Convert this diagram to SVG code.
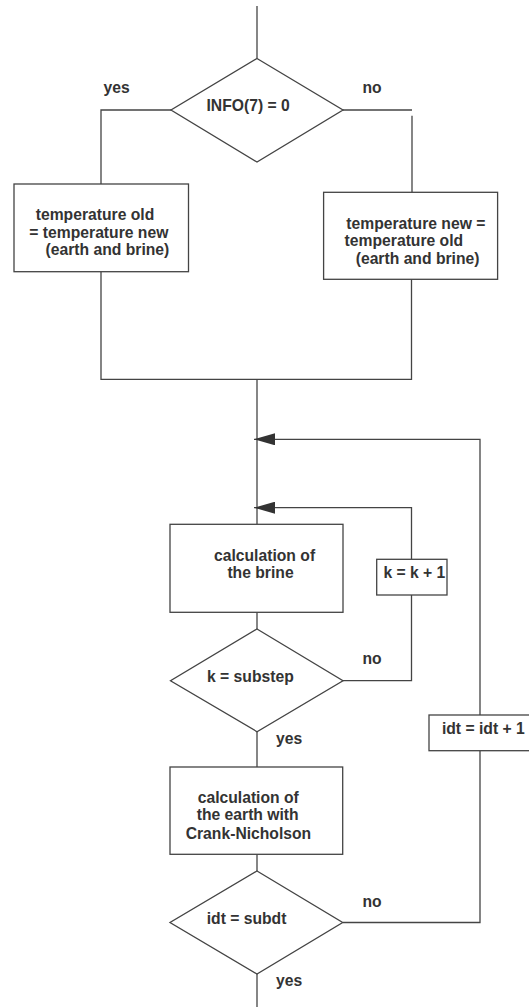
<svg xmlns="http://www.w3.org/2000/svg" width="529" height="1007" viewBox="0 0 529 1007">
<style>
.s{fill:#fff;stroke:#444;stroke-width:1.3}
.c{fill:none;stroke:#444;stroke-width:1.3}
text{font-family:"Liberation Sans",Arial,sans-serif;font-weight:bold;font-size:15.7px;fill:#333}
</style>
<defs>
<marker id="ah" viewBox="0 0 21 12" refX="21" refY="6" markerWidth="21" markerHeight="12" markerUnits="userSpaceOnUse" orient="auto">
<path d="M0,0 L21,6 L0,12 z" fill="#333"/>
</marker>
</defs>
<rect width="529" height="1007" fill="#fff"/>
<g id="connectors">
<path class="c" d="M257,6 V58.5"/>
<path class="c" d="M171,110 H101 V184"/>
<path class="c" d="M101,271.7 V379.3 H411.5 V279.3"/>
<path class="c" d="M343,110 H412"/>
<path class="c" d="M412,115.7 V192.3"/>
<path class="c" d="M257,379.3 V524.3"/>
<path class="c" d="M343,922.5 H480 V750.7"/>
<path class="c" d="M480,715 V439.3 H254" marker-end="url(#ah)"/>
<path class="c" d="M343,680.7 H411.5 V595"/>
<path class="c" d="M411.5,559.3 V507.7 H254" marker-end="url(#ah)"/>
<path class="c" d="M257,612.3 V629"/>
<path class="c" d="M257,731.7 V767"/>
<path class="c" d="M257,854.3 V871"/>
<path class="c" d="M257,974 V1007"/>
<text x="103.5" y="93.3">yes</text>
<text x="362.5" y="93.3">no</text>
<text x="362.5" y="664.3">no</text>
<text x="276" y="744">yes</text>
<text x="362.5" y="906.7">no</text>
<text x="276" y="986">yes</text>
</g>
<g id="d1">
<polygon class="s" points="257,58.5 343,110 257,162 171,110"/>
<text x="206.5" y="111">INFO(7) = 0</text>
</g>
<g id="box-yes">
<rect class="s" x="14" y="184" width="174.5" height="87.7"/>
<text x="35.7" y="220">temperature old</text>
<text x="29.3" y="237.7">= temperature new</text>
<text x="45.5" y="255">(earth and brine)</text>
</g>
<g id="box-no">
<rect class="s" x="323.6" y="192.3" width="174" height="87"/>
<text x="346.3" y="228.5">temperature new =</text>
<text x="344.6" y="245.5">temperature old</text>
<text x="355.7" y="263.5">(earth and brine)</text>
</g>
<g id="brine">
<rect class="s" x="170" y="524.3" width="173" height="88"/>
<text x="214" y="560.7">calculation of</text>
<text x="227.4" y="578.3">the brine</text>
</g>
<g id="kinc">
<rect class="s" x="376.7" y="559.3" width="70.3" height="35.7"/>
<text x="383.4" y="577.7">k = k + 1</text>
</g>
<g id="d2">
<polygon class="s" points="257,629 343,680.7 257,731.7 170.5,680.7"/>
<text x="207" y="681.7">k = substep</text>
</g>
<g id="earth">
<rect class="s" x="170" y="767" width="172.7" height="87.3"/>
<text x="197.7" y="803.3">calculation of</text>
<text x="196.7" y="820">the earth with</text>
<text x="185.7" y="839">Crank-Nicholson</text>
</g>
<g id="d3">
<polygon class="s" points="257,871 342.7,922.5 257,974 170,922.5"/>
<text x="206.7" y="924.3">idt = subdt</text>
</g>
<g id="idtinc">
<rect class="s" x="429" y="715" width="110" height="35.7"/>
<text x="441.9" y="734">idt = idt + 1</text>
</g>
</svg>
